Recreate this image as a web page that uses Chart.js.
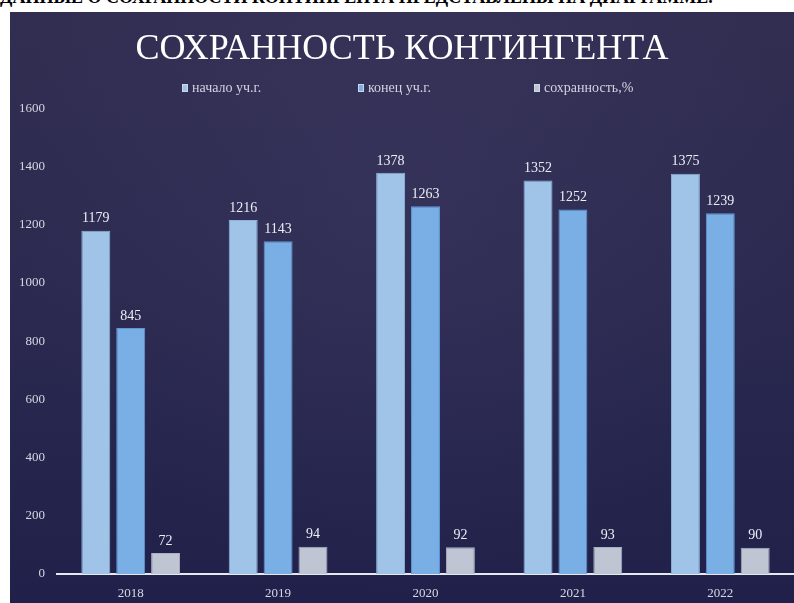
<!DOCTYPE html>
<html lang="ru">
<head>
<meta charset="utf-8">
<script src="https://cdn.jsdelivr.net/npm/chart.js@4.4.0/dist/chart.umd.min.js"></script>
<style>
  html, body { margin: 0; padding: 0; background: #fff; width: 794px; height: 603px; overflow: hidden; }
  .caption {
    position: absolute; left: 0; top: -13px; width: 705px; text-align: right;
    font: bold 18px "Liberation Serif", serif; color: #000; white-space: nowrap;
  }
  .panel {
    position: absolute; left: 10px; top: 12px; width: 784px; height: 591px;
    background:
      radial-gradient(ellipse at 50% 30%, rgba(70, 66, 110, 0.3), rgba(0, 0, 0, 0) 70%),
      linear-gradient(to bottom, #322e52 0%, #2c2a50 45%, #20204a 100%);
  }
  .panel canvas { position: absolute; left: 0; top: 0; }
  .legend {
    position: absolute; left: 172px; top: 68px;
    display: flex;
    font: 14px "Liberation Serif", serif; color: #d2d3e2;
  }
  .legend > div { width: 176px; white-space: nowrap; }
  .legend span.box { display: inline-block; width: 6px; height: 8px; margin-right: 4px; vertical-align: 0px; }
</style>
</head>
<body>
<div class="caption">ДАННЫЕ О СОХРАННОСТИ КОНТИНГЕНТА ПРЕДСТАВЛЕНЫ НА ДИАГРАММЕ.</div>
<div class="panel">
  <canvas id="chart" width="784" height="591"></canvas>
  <div class="legend" id="legend"></div>
</div>
<script>
document.addEventListener('DOMContentLoaded', function() {
    const years = ['2018', '2019', '2020', '2021', '2022'];
    const startOfYear = [1179, 1216, 1378, 1352, 1375];
    const endOfYear = [845, 1143, 1263, 1252, 1239];
    const retention = [72, 94, 92, 93, 90];
    const seriesNames = ['начало уч.г.', 'конец уч.г.', 'сохранность,%'];
    const yTicks = [0, 200, 400, 600, 800, 1000, 1200, 1400, 1600];

    const colors = ['#a0c4e8', '#79afe4', '#bfc5d3'];
    const edges = ['#8db4dc', '#5f97d6', '#a9b1c2'];
    const serif = '"Liberation Serif", serif';

    // value labels above each bar
    const valueLabels = {
        id: 'valueLabels',
        afterDatasetsDraw(chart) {
            const ctx = chart.ctx;
            ctx.save();
            ctx.font = '14px ' + serif;
            ctx.fillStyle = '#eceef6';
            ctx.textAlign = 'center';
            ctx.textBaseline = 'bottom';
            chart.data.datasets.forEach((ds, i) => {
                chart.getDatasetMeta(i).data.forEach((bar, j) => {
                    ctx.fillText(ds.data[j], bar.x, bar.y - 5);
                });
            });
            ctx.restore();
        }
    };

    const ctx = document.getElementById('chart').getContext('2d');
    const chart = new Chart(ctx, {
        type: 'bar',
        data: {
            labels: years,
            datasets: [startOfYear, endOfYear, retention].map((values, i) => ({
                label: seriesNames[i],
                data: values,
                backgroundColor: colors[i],
                borderColor: edges[i],
                borderWidth: 1,
                categoryPercentage: 0.71,
                barPercentage: 0.83
            }))
        },
        options: {
            responsive: false,
            animation: false,
            layout: { padding: { top: 0, left: 0, right: 0, bottom: 0 } },
            scales: {
                x: {
                    grid: { display: false, drawTicks: false },
                    border: { display: true, color: '#e6e8f0', width: 2 },
                    ticks: { color: '#d6d8e4', font: { family: serif, size: 13 }, padding: 12 },
                    afterFit: s => { s.height = 29; }
                },
                y: {
                    min: 0,
                    max: 1600,
                    afterBuildTicks: s => { s.ticks = yTicks.map(v => ({ value: v })); },
                    grid: { display: false, drawTicks: false },
                    border: { display: false },
                    ticks: {
                        color: '#d6d8e4',
                        font: { family: serif, size: 13 },
                        padding: 12,
                        callback: v => String(v)
                    },
                    afterFit: s => { s.width = 47; }
                }
            },
            plugins: {
                legend: { display: false },
                tooltip: { enabled: false },
                title: {
                    display: true,
                    text: 'СОХРАННОСТЬ КОНТИНГЕНТА',
                    color: '#ffffff',
                    font: { family: serif, size: 36, weight: 'normal' },
                    padding: { top: 16, bottom: 37 }
                }
            }
        },
        plugins: [valueLabels]
    });

    // legend built from the chart datasets
    const legend = document.getElementById('legend');
    chart.data.datasets.forEach(ds => {
        const item = document.createElement('div');
        item.innerHTML = '<span class="box" style="background:' + ds.backgroundColor + ';border:1px solid #cfd6e6;box-sizing:border-box"></span>' + ds.label;
        legend.appendChild(item);
    });
});
</script>
</body>
</html>
